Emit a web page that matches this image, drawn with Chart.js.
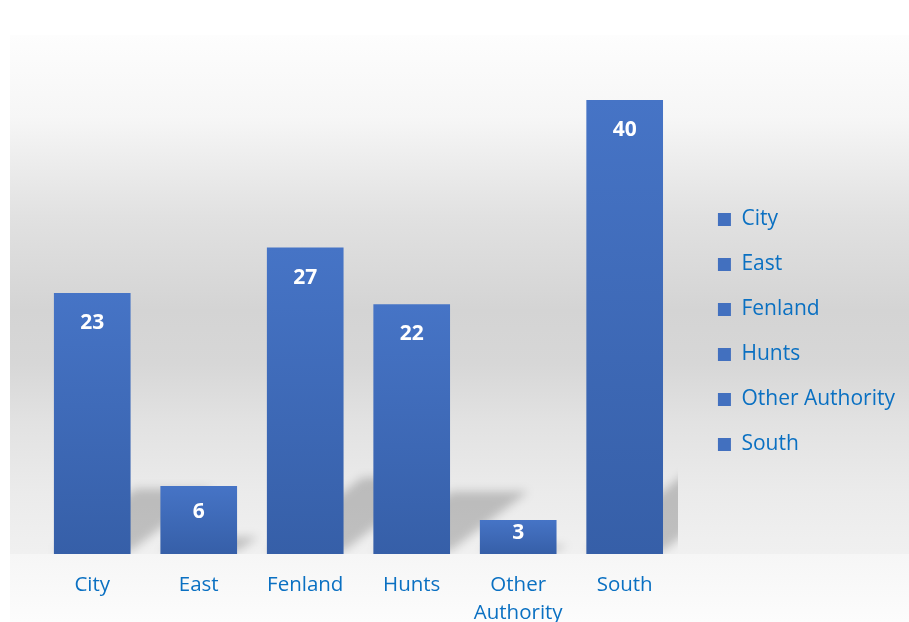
<!DOCTYPE html>
<html>
<head>
<meta charset="utf-8">
<script src="https://cdn.jsdelivr.net/npm/chart.js@4/dist/chart.umd.min.js"></script>
<style>
  html, body { margin: 0; padding: 0; background: #ffffff; overflow: hidden; }
  #wrap { width: 909px; height: 622px; position: relative; }
  canvas { display: block; }
</style>
</head>
<body>
<div id="wrap"><canvas id="c" width="909" height="622"></canvas></div>
<script>
// ---- data ----
const categories = ['City', 'East', 'Fenland', 'Hunts', 'Other Authority', 'South'];
const tickLabels = ['City', 'East', 'Fenland', 'Hunts', ['Other', 'Authority'], 'South'];
const counts = [23, 6, 27, 22, 3, 40];

const FONT = "'Open Sans', 'Liberation Sans', sans-serif";
const TEXT_BLUE = '#0a70c2';

const backgroundPlugin = {
  id: 'bgGradient',
  beforeDraw(chart) {
    const ctx = chart.ctx;
    const W = chart.width, H = chart.height;
    ctx.save();
    ctx.fillStyle = '#ffffff';
    ctx.fillRect(0, 0, W, H);
    const top = 35, left = 10;
    const g = ctx.createLinearGradient(0, top, 0, H);
    g.addColorStop(0.00, '#fdfdfd');
    g.addColorStop(0.14, '#f6f6f6');
    g.addColorStop(0.31, '#e1e1e1');
    g.addColorStop(0.47, '#d4d4d4');
    g.addColorStop(0.56, '#d7d7d7');
    g.addColorStop(0.66, '#e2e2e2');
    g.addColorStop(0.78, '#ebebeb');
    g.addColorStop(0.88, '#f0f0f0');
    g.addColorStop(1.00, '#fbfbfb');
    ctx.fillStyle = g;
    ctx.fillRect(left, top, W - left, H - top);
    const base = chart.scales.y.getPixelForValue(0);
    const g2 = ctx.createLinearGradient(0, base, 0, H);
    g2.addColorStop(0, '#f6f6f6');
    g2.addColorStop(1, '#fcfcfc');
    ctx.fillStyle = g2;
    ctx.fillRect(left, base, W - left, H - base);
    ctx.restore();
  }
};

const shadowPlugin = {
  id: 'barShadow',
  beforeDatasetsDraw(chart) {
    const ctx = chart.ctx;
    const area = chart.chartArea;
    const meta = chart.getDatasetMeta(0);
    ctx.save();
    ctx.beginPath();
    ctx.rect(area.left, area.top, area.right - area.left, area.bottom - area.top);
    ctx.clip();
    ctx.filter = 'blur(5px)';
    ctx.fillStyle = 'rgba(0,0,0,0.2)';
    meta.data.forEach(bar => {
      const p = bar.getProps(['x', 'y', 'base', 'width'], true);
      const h = p.base - p.y;
      const sh = 0.25 * h;
      const s = 1.25 * sh;
      const x0 = p.x - p.width / 2, x1 = p.x + p.width / 2;
      ctx.beginPath();
      ctx.moveTo(x0, p.base - 3);
      ctx.lineTo(x1, p.base - 3);
      ctx.lineTo(x1 + s, p.base - sh);
      ctx.lineTo(x0 + s, p.base - sh);
      ctx.closePath();
      ctx.fill();
    });
    ctx.restore();
  }
};

const valueLabelPlugin = {
  id: 'valueLabels',
  afterDatasetsDraw(chart) {
    const ctx = chart.ctx;
    const meta = chart.getDatasetMeta(0);
    const data = chart.data.datasets[0].data;
    ctx.save();
    ctx.fillStyle = '#ffffff';
    ctx.font = "bold 21px " + FONT;
    ctx.textAlign = 'center';
    ctx.textBaseline = 'middle';
    meta.data.forEach((bar, i) => {
      const p = bar.getProps(['x', 'y', 'base'], true);
      const h = p.base - p.y;
      const off = Math.min(30, 0.38 * h);
      ctx.fillText(String(data[i]), p.x, p.y + off);
    });
    ctx.restore();
  }
};

function barGradient(context) {
  const chart = context.chart;
  const ys = chart.scales && chart.scales.y;
  if (!chart.chartArea || !ys || context.type !== 'data') return '#4472c4';
  const v = context.raw;
  const top = ys.getPixelForValue(v);
  const base = ys.getPixelForValue(0);
  if (!isFinite(top) || !isFinite(base) || top === base) return '#4472c4';
  const g = chart.ctx.createLinearGradient(0, top, 0, base);
  g.addColorStop(0, '#4674c6');
  g.addColorStop(1, '#365fa8');
  return g;
}

new Chart(document.getElementById('c'), {
  type: 'bar',
  data: {
    labels: tickLabels,
    datasets: [{
      label: 'Count',
      data: counts,
      backgroundColor: barGradient,
      borderWidth: 0,
      categoryPercentage: 1.0,
      barPercentage: 0.72
    }]
  },
  options: {
    responsive: false,
    maintainAspectRatio: false,
    animation: false,
    devicePixelRatio: 1,
    layout: { padding: { left: 39, top: 100, right: 4, bottom: 0 } },
    scales: {
      x: {
        grid: { display: false, drawTicks: false },
        border: { display: false },
        ticks: {
          color: TEXT_BLUE,
          font: { family: FONT, size: 20.5, lineHeight: 1.37 },
          padding: 17,
          maxRotation: 0,
          autoSkip: false
        },
        afterFit(scale) { scale.height = 68; }
      },
      y: {
        position: 'right',
        min: 0,
        max: 40,
        grid: { display: false, drawTicks: false },
        border: { display: false },
        ticks: { display: false },
        afterFit(scale) { scale.width = 16; }
      }
    },
    plugins: {
      tooltip: { enabled: false },
      legend: {
        position: 'right',
        fullSize: false,
        title: { display: true, text: '', font: { size: 5, lineHeight: 2 }, padding: 0 },
        labels: {
          color: TEXT_BLUE,
          font: { family: FONT, size: 21 },
          boxWidth: 13,
          boxHeight: 13,
          padding: 24,
          generateLabels() {
            return categories.map((name, i) => ({
              text: name,
              fillStyle: '#4270bf',
              strokeStyle: '#4270bf',
              lineWidth: 0,
              hidden: false,
              fontColor: TEXT_BLUE,
              index: i,
              datasetIndex: 0
            }));
          }
        }
      }
    }
  },
  plugins: [backgroundPlugin, shadowPlugin, valueLabelPlugin]
});
</script>
</body>
</html>
